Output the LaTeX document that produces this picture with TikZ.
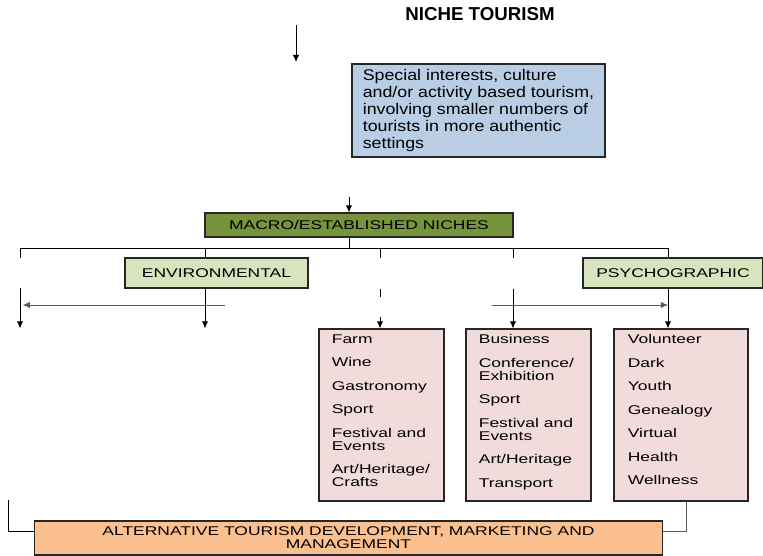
\documentclass[tikz,border=0pt]{standalone}
\usepackage{fontspec}
\setmainfont{Liberation Sans}
\newfontfamily\widefont[FakeStretch=1.38]{Liberation Sans}
\newfontfamily\descfont[FakeStretch=1.15]{Liberation Sans}
\usetikzlibrary{arrows.meta,positioning}

\definecolor{descblue}{RGB}{185,205,229}
\definecolor{macrogreen}{RGB}{119,147,60}
\definecolor{catgreen}{RGB}{215,228,189}
\definecolor{itempink}{RGB}{242,220,219}
\definecolor{footorange}{RGB}{250,192,144}

\tikzset{
  box/.style={draw=black!85, line width=0.8pt, rectangle, inner sep=0pt},
  small/.style={font=\widefont\fontsize{9}{9.25}\selectfont},
  catbox/.style={box, small, fill=catgreen, minimum width=#1, minimum height=0.75cm},
  itembox/.style={box, fill=itempink, minimum width=#1, minimum height=4.3cm},
  itemlist/.style={small, align=left, inner sep=0pt, anchor=north west},
  soft/.style={draw=black!65}
}

\begin{document}
\begin{tikzpicture}[x=0.025cm, y=-0.025cm, >={Latex[length=5pt,width=4.5pt]}, semithick]
    \useasboundingbox (0,0) rectangle (763,556);

    \node[font=\bfseries\fontsize{13.3}{15}\selectfont] (title) at (480,14) {NICHE TOURISM};
    \node[box, fill=descblue, minimum width=6.325cm, minimum height=2.325cm, align=left,
          font=\descfont\fontsize{11}{12.1}\selectfont] (desc) at (478.5,110.5)
          {Special interests, culture\\and/or activity based tourism,\\involving smaller numbers of\\tourists in more authentic\\settings};

    \node[box, small, fill=macrogreen, minimum width=7.7cm, minimum height=0.6cm] (macro) at (359,225) {MACRO/ESTABLISHED NICHES};
    \node[catbox=4.575cm] (env)    at (216.5,273) {ENVIRONMENTAL};
    \node[catbox=4.5cm]   (psycho) at (673,273)   {PSYCHOGRAPHIC};

    \node[itembox=3.125cm] (box1) at (381.5,415) {};
    \node[itembox=3.125cm] (box2) at (528.5,415) {};
    \node[itembox=3.35cm]  (box3) at (681,415)   {};
    \node[itemlist] (list1) at ([xshift=0.325cm,yshift=-0.14cm]box1.north west)
          {Farm\\[7.5pt]Wine\\[7.5pt]Gastronomy\\[7.5pt]Sport\\[7.5pt]Festival and\\Events\\[7.5pt]Art/Heritage/\\Crafts};
    \node[itemlist] (list2) at ([xshift=0.325cm,yshift=-0.14cm]box2.north west)
          {Business\\[7.5pt]Conference/\\Exhibition\\[7.5pt]Sport\\[7.5pt]Festival and\\Events\\[7.5pt]Art/Heritage\\[7.5pt]Transport};
    \node[itemlist] (list3) at ([xshift=0.35cm,yshift=-0.14cm]box3.north west)
          {Volunteer\\[7.5pt]Dark\\[7.5pt]Youth\\[7.5pt]Genealogy\\[7.5pt]Virtual\\[7.5pt]Health\\[7.5pt]Wellness};

    \node[box, small, fill=footorange, minimum width=15.675cm, minimum height=0.85cm, align=center] (foot) at (348.5,538)
          {ALTERNATIVE TOURISM DEVELOPMENT, MARKETING AND\\MANAGEMENT};

    % top arrows
    \coordinate (t0) at (296,25);
    \coordinate (t1) at (296,62);
    \draw[->] (t0) -- (t1);
    \coordinate (m0) at (349,197);
    \draw[->] (m0) -- (m0 |- macro.north);

    % branch line
    \coordinate (b1) at (20,248);
    \coordinate (b2) at (205,248);
    \coordinate (b3) at (380,248);
    \coordinate (b4) at (513,248);
    \coordinate (b5) at (668,248);
    \draw (m0 |- macro.south) -- (m0 |- b1);
    \draw (b1) -- (b5);
    \draw (b1) -- +(0,10);
    \draw (b2) -- (b2 |- env.north);
    \draw (b3) -- +(0,10);
    \draw (b4) -- +(0,10);
    \draw (b5) -- (b5 |- psycho.north);

    % down to the niches
    \coordinate (d1) at (20,288);
    \coordinate (h1) at (225,305);
    \coordinate (h2) at (492,305);
    \draw[->] (d1) -- (d1 |- box1.north);
    \draw[->, soft] (h1) -- ([xshift=2pt]h1 -| d1);
    \draw[->] (b2 |- env.south) -- (b2 |- box1.north);
    \draw[->, dash pattern=on 6pt off 14pt] (b3 |- env.south) -- (b3 |- box1.north);
    \draw[->] (b4 |- env.south) -- (b4 |- box2.north);
    \draw[->, soft] (h2) -- (h2 -| b5);
    \draw[->] (b5 |- psycho.south) -- (b5 |- box3.north);

    % into the bottom box
    \coordinate (f1) at (8,500);
    \coordinate (f2) at (686,0);
    \draw (f1) |- ([yshift=5pt]foot.west);
    \draw[soft] (f2 |- box3.south) |- ([yshift=5pt]foot.east);
\end{tikzpicture}
\end{document}
